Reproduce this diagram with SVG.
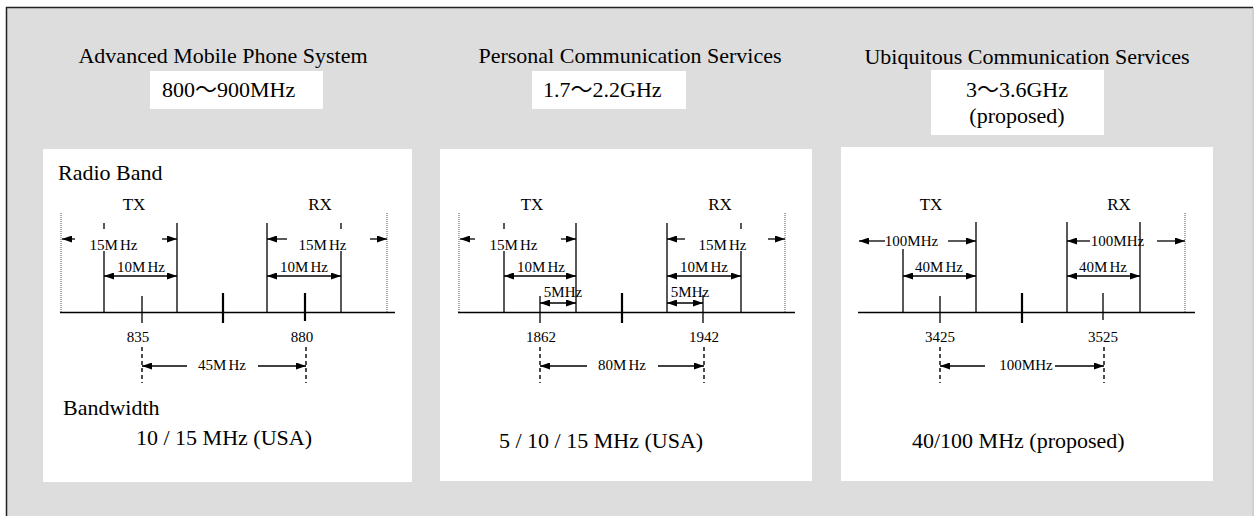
<svg xmlns="http://www.w3.org/2000/svg" width="1254" height="516" viewBox="0 0 1254 516">
<style>
text{font-family:"Liberation Serif","Noto Sans CJK JP",serif;fill:#000}
.big{font-size:22px}
.sm{font-size:15px}
.mid{font-size:17px}
.c{text-anchor:middle}
.ln{stroke:#000;stroke-width:1.3;fill:none}
.base{stroke:#000;stroke-width:1.6;fill:none}
.thk{stroke:#000;stroke-width:2.2;fill:none}
.dot{stroke:#555;stroke-width:1;stroke-dasharray:1 1;fill:none}
.dash{stroke:#000;stroke-width:1.4;stroke-dasharray:4 3;fill:none}
.ar{stroke:#000;stroke-width:1.3;fill:none;marker-end:url(#ah)}
.dar{stroke:#000;stroke-width:1.3;fill:none;marker-start:url(#ah);marker-end:url(#ah)}
.wbox{fill:#fff}
</style>
<defs>
<marker id="ah" viewBox="0 0 10 7" refX="10" refY="3.5" markerWidth="10" markerHeight="7" markerUnits="userSpaceOnUse" orient="auto-start-reverse"><path d="M0,0 L10,3.5 L0,7 z" fill="#000"/></marker>
</defs>
<rect x="6" y="7" width="1248" height="509" fill="#dddddd"/>
<path d="M6.5,516 V7.5 H1253" stroke="#222" stroke-width="1.5" fill="none"/>
<path d="M1253,8 V516" stroke="#c4c4c4" stroke-width="1" fill="none"/>

<g id="header-amps">
<text class="big c" x="223" y="63">Advanced Mobile Phone System</text>
<rect class="wbox" x="150" y="71" width="173" height="38"/>
<text class="big" x="162" y="97">800～900MHz</text>
</g>
<g id="header-pcs">
<text class="big c" x="630" y="63">Personal Communication Services</text>
<rect class="wbox" x="532" y="71" width="154" height="38"/>
<text class="big" x="543" y="97">1.7～2.2GHz</text>
</g>
<g id="header-ucs">
<text class="big c" x="1027" y="64">Ubiquitous Communication Services</text>
<rect class="wbox" x="931" y="70" width="173" height="65"/>
<text class="big c" x="1017" y="97">3～3.6GHz</text>
<text class="big c" x="1017" y="123">(proposed)</text>
</g>

<g id="panel-amps">
<rect class="wbox" x="43" y="149" width="369" height="333"/>
<text class="big" x="58" y="180">Radio Band</text>
<text class="mid c" x="134" y="210">TX</text>
<text class="mid c" x="320" y="210">RX</text>
<path class="base" d="M60,312.5 H395"/>
<path class="dot" d="M61,213 V312 M387,213 V312"/>
<path class="ln" d="M104,223 V229 M104,251 V312 M177,223 V312 M267,223 V312 M341,223 V229 M341,251 V312 M142,296 V323"/>
<path class="thk" d="M223,293 V323 M305,293 V321"/>
<text class="sm c" x="113.5" y="250">15M<tspan dx="2">Hz</tspan></text>
<text class="sm c" x="141" y="272">10M<tspan dx="2">Hz</tspan></text>
<text class="sm c" x="322.5" y="250">15M<tspan dx="2">Hz</tspan></text>
<text class="sm c" x="304" y="272">10M<tspan dx="2">Hz</tspan></text>
<text class="sm c" x="138" y="342">835</text>
<text class="sm c" x="302" y="342">880</text>
<path class="dash" d="M142,347 V383 M306,347 V383"/>
<text class="sm c" x="222" y="370">45M<tspan dx="2">Hz</tspan></text>
<text class="big" x="63" y="415">Bandwidth</text>
<text class="big" x="136" y="445">10 / 15 MHz (USA)</text>
</g>

<g id="panel-pcs">
<rect class="wbox" x="440" y="149" width="372" height="332"/>
<text class="mid c" x="532" y="210">TX</text>
<text class="mid c" x="720" y="210">RX</text>
<path class="base" d="M458,312.5 H795"/>
<path class="dot" d="M459,213 V312 M785,213 V312"/>
<path class="ln" d="M504,223 V229 M504,251 V312 M576,223 V312 M667,223 V312 M741,223 V229 M741,251 V312 M540,296 V323 M703,295 V323"/>
<path class="thk" d="M622,293 V323"/>
<text class="sm c" x="513.5" y="250">15M<tspan dx="2">Hz</tspan></text>
<text class="sm c" x="541" y="272">10M<tspan dx="2">Hz</tspan></text>
<text class="sm c" x="563" y="297">5MHz</text>
<text class="sm c" x="722.5" y="250">15M<tspan dx="2">Hz</tspan></text>
<text class="sm c" x="704" y="272">10M<tspan dx="2">Hz</tspan></text>
<text class="sm c" x="690" y="297">5MHz</text>
<text class="sm c" x="541" y="342">1862</text>
<text class="sm c" x="704" y="342">1942</text>
<path class="dash" d="M540,347 V383 M704,347 V383"/>
<text class="sm c" x="622" y="370">80M<tspan dx="2">Hz</tspan></text>
<text class="big" x="499" y="448">5 / 10 / 15 MHz (USA)</text>
</g>

<g id="panel-ucs">
<rect class="wbox" x="841" y="147" width="372" height="334"/>
<text class="mid c" x="931" y="210">TX</text>
<text class="mid c" x="1119" y="210">RX</text>
<path class="base" d="M858,312.5 H1195"/>
<path class="dot" d="M1185,213 V312"/>
<path class="ln" d="M903,249 V312 M976,222 V312 M1067,222 V312 M1140,222 V312 M940,296 V323 M1103,293 V320"/>
<path class="thk" d="M1022,293 V323"/>
<text class="sm c" x="911.5" y="246">100MHz</text>
<text class="sm c" x="939" y="272">40M<tspan dx="2">Hz</tspan></text>
<text class="sm c" x="1117.5" y="246">100MHz</text>
<text class="sm c" x="1103" y="272">40M<tspan dx="2">Hz</tspan></text>
<text class="sm c" x="940" y="342">3425</text>
<text class="sm c" x="1103" y="342">3525</text>
<path class="dash" d="M940,347 V383 M1104,347 V383"/>
<text class="sm c" x="1026" y="370">100MHz</text>
<text class="big" x="912" y="448">40/100 MHz (proposed)</text>
</g>

<g id="connectors">
<path class="ar" d="M75,239 H62"/>
<path class="ar" d="M162,239 H177"/>
<path class="dar" d="M104,276 H177"/>
<path class="ar" d="M287,239 H267"/>
<path class="ar" d="M370,239 H387"/>
<path class="dar" d="M267,276 H341"/>
<path class="ar" d="M187,366 H142"/>
<path class="ar" d="M258,366 H306"/>

<path class="ar" d="M475,239 H460"/>
<path class="ar" d="M561,239 H576"/>
<path class="dar" d="M504,276 H576"/>
<path class="dar" d="M540,303 H576"/>
<path class="ar" d="M685,239 H667"/>
<path class="ar" d="M768,239 H785"/>
<path class="dar" d="M667,276 H741"/>
<path class="dar" d="M667,303 H703"/>
<path class="ar" d="M587,366 H540"/>
<path class="ar" d="M658,366 H704"/>

<path class="ar" d="M885,241 H859"/>
<path class="ar" d="M948,241 H976"/>
<path class="dar" d="M903,276 H976"/>
<path class="ar" d="M1090,241 H1067"/>
<path class="ar" d="M1157,241 H1185"/>
<path class="dar" d="M1067,276 H1140"/>
<path class="ar" d="M985,366 H940"/>
<path class="ar" d="M1055,366 H1104"/>
</g>
</svg>
